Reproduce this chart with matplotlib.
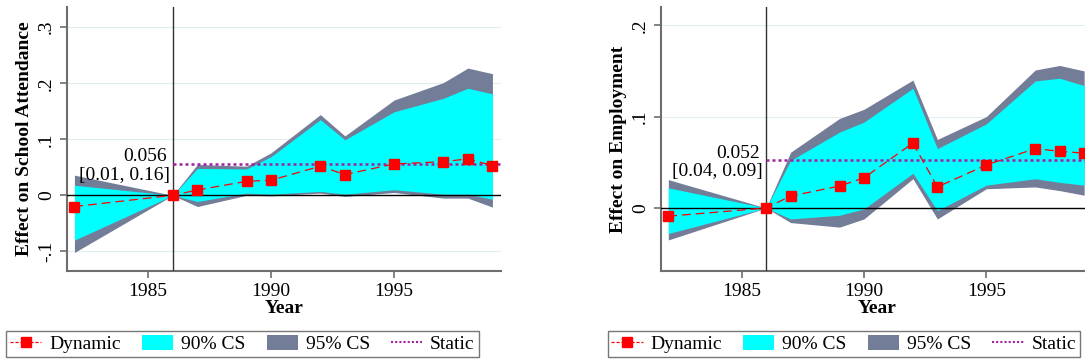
import matplotlib
matplotlib.use("Agg")
import matplotlib.pyplot as plt
from matplotlib.lines import Line2D
from matplotlib.patches import Patch

plt.rcParams['font.family'] = ['Liberation Serif', 'DejaVu Serif']

years = [1982, 1986, 1987, 1989, 1990, 1992, 1993, 1995, 1997, 1998, 1999]

# School attendance
school_dyn = [-0.020, 0.0, 0.0095, 0.025, 0.027, 0.052, 0.037, 0.056, 0.060, 0.065, 0.053]
school_hi90 = [0.018, 0.0, 0.048, 0.047, 0.069, 0.135, 0.099, 0.149, 0.173, 0.191, 0.181]
school_lo90 = [-0.080, 0.0, -0.011, 0.004, 0.002, 0.007, 0.002, 0.010, 0.002, 0.002, -0.007]
school_hi95 = [0.036, 0.0, 0.055, 0.052, 0.076, 0.144, 0.106, 0.170, 0.201, 0.227, 0.217]
school_lo95 = [-0.102, 0.0, -0.020, 0.0, -0.001, 0.004, -0.002, 0.005, -0.005, -0.005, -0.021]
school_static = 0.056
school_ci = "[0.01, 0.16]"

# Employment
emp_dyn = [-0.009, 0.0, 0.013, 0.024, 0.033, 0.071, 0.023, 0.047, 0.065, 0.062, 0.060]
emp_hi90 = [0.022, 0.0, 0.052, 0.083, 0.094, 0.131, 0.065, 0.092, 0.139, 0.142, 0.134]
emp_lo90 = [-0.028, 0.0, -0.012, -0.008, -0.001, 0.038, -0.003, 0.025, 0.032, 0.028, 0.025]
emp_hi95 = [0.031, 0.0, 0.061, 0.098, 0.108, 0.140, 0.075, 0.100, 0.151, 0.156, 0.150]
emp_lo95 = [-0.035, 0.0, -0.016, -0.021, -0.012, 0.032, -0.012, 0.021, 0.023, 0.019, 0.014]
emp_static = 0.052
emp_ci = "[0.04, 0.09]"

CYAN = '#00FFFF'
GRAY = '#747D98'
RED = '#FF0000'
PURPLE = '#A020A0'
SPINE = '#6E6E6E'


def panel(ax, dyn, lo90, hi90, lo95, hi95, static, ci, ylabel, ylim, yticks, yticklabels, lab_y):
    for yt in yticks:
        ax.axhline(yt, color='#E3EEF0', lw=0.8, zorder=0)
    ax.fill_between(years, lo95, hi95, color=GRAY, lw=0, zorder=1)
    ax.fill_between(years, lo90, hi90, color=CYAN, lw=0, zorder=2)
    ax.axhline(0, color='black', lw=1.0, zorder=3)
    ax.axvline(1986, color='#333333', lw=1.0, zorder=3)
    ax.plot([1986, 1999.35], [static, static], color=PURPLE, ls=(0, (1.2, 1.2)), lw=1.8, zorder=4)
    ax.plot(years, dyn, color=RED, ls=(0, (7, 4)), lw=0.9, marker='s', ms=7.5,
            mfc=RED, mec=RED, zorder=5)
    ax.text(1985.75, lab_y[0], '%.3f' % static, ha='right', va='center', fontsize=14)
    ax.text(1985.88, lab_y[1], ci, ha='right', va='center', fontsize=14)
    ax.set_xlim(1981.7, 1999.35)
    ax.set_ylim(*ylim)
    ax.set_xticks([1985, 1990, 1995])
    ax.set_yticks(yticks)
    ax.set_yticklabels(yticklabels, rotation=90, va='center')
    ax.tick_params(labelsize=14, colors='black', length=5, width=1.2)
    ax.tick_params(axis='both', color=SPINE)
    for s in ['top', 'right']:
        ax.spines[s].set_visible(False)
    for s in ['left', 'bottom']:
        ax.spines[s].set_color(SPINE)
        ax.spines[s].set_linewidth(1.5)
    ax.set_ylabel(ylabel, fontsize=14, fontweight='bold', labelpad=4)
    ax.set_xlabel('Year', fontsize=14, fontweight='bold', labelpad=0)


fig = plt.figure(figsize=(10.85, 3.62), dpi=100)
ax1 = fig.add_axes([0.0618, 0.2514, 0.4000, 0.7293])
ax2 = fig.add_axes([0.6092, 0.2514, 0.3979, 0.7293])

panel(ax1, school_dyn, school_lo90, school_hi90, school_lo95, school_hi95,
      school_static, school_ci, 'Effect on School Attendance',
      (-0.135, 0.336), [-0.1, 0, 0.1, 0.2, 0.3], ['-.1', '0', '.1', '.2', '.3'],
      (0.069, 0.036))
panel(ax2, emp_dyn, emp_lo90, emp_hi90, emp_lo95, emp_hi95,
      emp_static, emp_ci, 'Effect on Employment',
      (-0.069, 0.22), [0, 0.1, 0.2], ['0', '.1', '.2'],
      (0.0595, 0.0394))

handles = [
    Line2D([], [], color=RED, ls=(0, (2.5, 1.5)), lw=0.9, marker='s', ms=7, mfc=RED, mec=RED),
    Patch(facecolor=CYAN, edgecolor='none'),
    Patch(facecolor=GRAY, edgecolor='none'),
    Line2D([], [], color=PURPLE, ls=(0, (1, 1)), lw=1.5),
]
labels = ['Dynamic', '90% CS', '95% CS', 'Static']
for cx in [0.2235, 0.7776]:
    fig.legend(handles, labels, loc='center', bbox_to_anchor=(cx, 0.0497), ncol=4,
               fontsize=14, frameon=True, fancybox=False, edgecolor='#555555',
               handlelength=1.6, handleheight=0.8, columnspacing=1.1, handletextpad=0.4,
               borderpad=0.2, borderaxespad=0)

fig.savefig('out.png', dpi=100)
